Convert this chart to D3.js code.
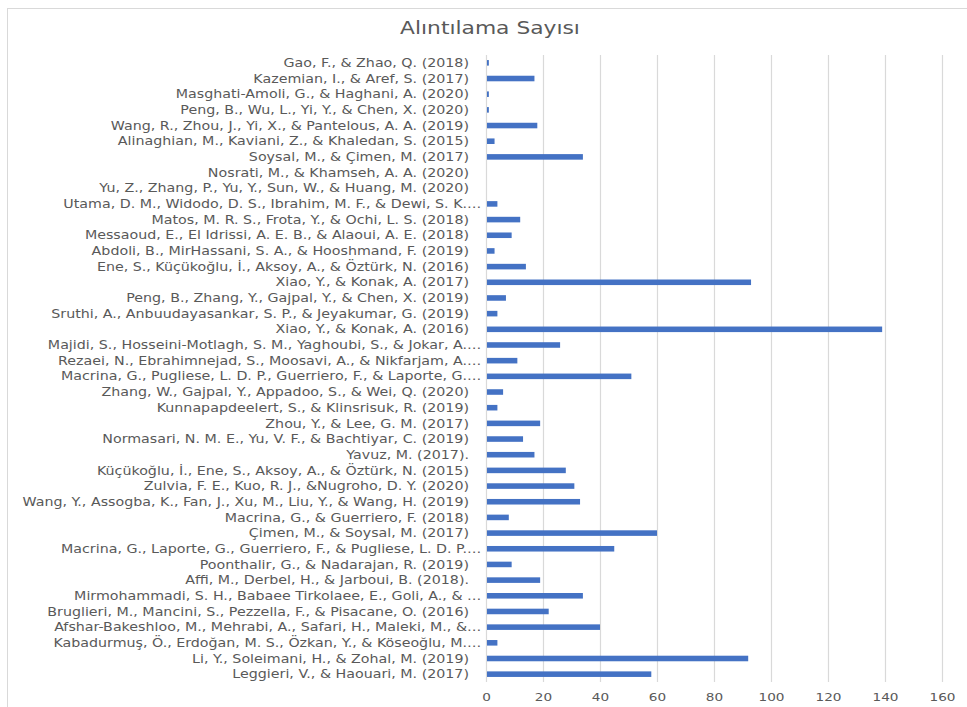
<!DOCTYPE html>
<html>
<head>
<meta charset="utf-8">
<script src="https://cdn.jsdelivr.net/npm/d3@7"></script>
<style>
  body { margin: 0; background: #fff; }
  svg { display: block; }
</style>
</head>
<body>
<svg id="chart" width="967" height="707"></svg>
<script>
// yayınlar (yukarıdan aşağıya)
const authors = [
  "Gao, F., & Zhao, Q. (2018)",
  "Kazemian, I., & Aref, S. (2017)",
  "Masghati-Amoli, G., & Haghani, A. (2020)",
  "Peng, B., Wu, L., Yi, Y., & Chen, X. (2020)",
  "Wang, R., Zhou, J., Yi, X., & Pantelous, A. A. (2019)",
  "Alinaghian, M., Kaviani, Z., & Khaledan, S. (2015)",
  "Soysal, M., & Çimen, M. (2017)",
  "Nosrati, M., & Khamseh, A. A. (2020)",
  "Yu, Z., Zhang, P., Yu, Y., Sun, W., & Huang, M. (2020)",
  "Utama, D. M., Widodo, D. S., Ibrahim, M. F., & Dewi, S. K.…",
  "Matos, M. R. S., Frota, Y., & Ochi, L. S. (2018)",
  "Messaoud, E., El Idrissi, A. E. B., & Alaoui, A. E. (2018)",
  "Abdoli, B., MirHassani, S. A., & Hooshmand, F. (2019)",
  "Ene, S., Küçükoğlu, İ., Aksoy, A., & Öztürk, N. (2016)",
  "Xiao, Y., & Konak, A. (2017)",
  "Peng, B., Zhang, Y., Gajpal, Y., & Chen, X. (2019)",
  "Sruthi, A., Anbuudayasankar, S. P., & Jeyakumar, G. (2019)",
  "Xiao, Y., & Konak, A. (2016)",
  "Majidi, S., Hosseini-Motlagh, S. M., Yaghoubi, S., & Jokar, A.…",
  "Rezaei, N., Ebrahimnejad, S., Moosavi, A., & Nikfarjam, A.…",
  "Macrina, G., Pugliese, L. D. P., Guerriero, F., & Laporte, G.…",
  "Zhang, W., Gajpal, Y., Appadoo, S., & Wei, Q. (2020)",
  "Kunnapapdeelert, S., & Klinsrisuk, R. (2019)",
  "Zhou, Y., & Lee, G. M. (2017)",
  "Normasari, N. M. E., Yu, V. F., & Bachtiyar, C. (2019)",
  "Yavuz, M. (2017).",
  "Küçükoğlu, İ., Ene, S., Aksoy, A., & Öztürk, N. (2015)",
  "Zulvia, F. E., Kuo, R. J., &Nugroho, D. Y. (2020)",
  "Wang, Y., Assogba, K., Fan, J., Xu, M., Liu, Y., & Wang, H. (2019)",
  "Macrina, G., & Guerriero, F. (2018)",
  "Çimen, M., & Soysal, M. (2017)",
  "Macrina, G., Laporte, G., Guerriero, F., & Pugliese, L. D. P.…",
  "Poonthalir, G., & Nadarajan, R. (2019)",
  "Affi, M., Derbel, H., & Jarboui, B. (2018).",
  "Mirmohammadi, S. H., Babaee Tirkolaee, E., Goli, A., & …",
  "Bruglieri, M., Mancini, S., Pezzella, F., & Pisacane, O. (2016)",
  "Afshar-Bakeshloo, M., Mehrabi, A., Safari, H., Maleki, M., &…",
  "Kabadurmuş, Ö., Erdoğan, M. S., Özkan, Y., & Köseoğlu, M.…",
  "Li, Y., Soleimani, H., & Zohal, M. (2019)",
  "Leggieri, V., & Haouari, M. (2017)"
];

// alıntılama sayıları
const citations = [
  1, 17, 1, 1, 18, 3, 34, 0, 0, 4,
  12, 9, 3, 14, 93, 7, 4, 139, 26, 11,
  51, 6, 4, 19, 13, 17, 28, 31, 33, 8,
  60, 45, 9, 19, 34, 22, 40, 4, 92, 58
];

const xTicks = [0, 20, 40, 60, 80, 100, 120, 140, 160];

const data = authors.map((a, i) => ({ name: a, value: citations[i] }));

const svg = d3.select("#chart");
const margin = { top: 55, left: 486 };
const plotW = 942 - margin.left;
const plotH = 682 - margin.top;
const font = "DejaVu Sans, sans-serif";
const grey = "#595959";

// referanstaki yazı yatayda geniş; ölçüp yatay ölçek bulunur
function stretch(node, targetW) {
  return targetW / node.getComputedTextLength();
}

// çerçeve
svg.append("rect")
  .attr("x", 7.5).attr("y", 8.5)
  .attr("width", 1000).attr("height", 800)
  .attr("fill", "#fff")
  .attr("stroke", "#d9d9d9")
  .attr("stroke-width", 1);

const title = svg.append("text")
  .attr("text-anchor", "middle")
  .attr("font-family", font)
  .attr("font-size", 17)
  .attr("fill", grey)
  .text("Alıntılama Sayısı");
title.attr("transform", `translate(490,34) scale(${stretch(title.node(), 180)},1)`);

const x = d3.scaleLinear().domain([0, 160]).range([0, plotW]);
const y = d3.scaleBand().domain(authors).range([0, plotH]).paddingInner(0.645).paddingOuter(0.3225);

const g = svg.append("g").attr("transform", `translate(${margin.left},${margin.top})`);

// dikey ızgara çizgileri
g.append("g")
  .selectAll("line")
  .data(xTicks)
  .join("line")
  .attr("x1", d => Math.round(x(d)) + 0.5)
  .attr("x2", d => Math.round(x(d)) + 0.5)
  .attr("y1", 0)
  .attr("y2", plotH)
  .attr("stroke", "#d9d9d9")
  .attr("stroke-width", 1.2);

g.append("g")
  .selectAll("rect")
  .data(data)
  .join("rect")
  .attr("x", x(0) + 1)
  .attr("y", d => y(d.name))
  .attr("width", d => Math.max(0, x(d.value) - x(0) - 1))
  .attr("height", y.bandwidth())
  .attr("fill", "#4472c4");

// x ekseni etiketleri
const xAxis = g.append("g")
  .attr("transform", `translate(0,${plotH})`)
  .call(d3.axisBottom(x).tickValues(xTicks).tickSize(0).tickPadding(0));
xAxis.select(".domain").remove();
const tickText = xAxis.selectAll("text")
  .attr("font-family", font)
  .attr("font-size", 11)
  .attr("fill", grey)
  .attr("y", 0).attr("dy", null);
const tx = stretch(tickText.filter(d => d === 160).node(), 26);
tickText.attr("transform", `translate(0,19) scale(${tx},1)`);

// y ekseni etiketleri
const labels = g.append("g")
  .selectAll("text")
  .data(data)
  .join("text")
  .attr("dy", "0.36em")
  .attr("text-anchor", "end")
  .attr("font-family", font)
  .attr("font-size", 11.5)
  .attr("fill", grey)
  .text(d => d.name);

// en uzun etikete göre yatay ölçek
const sx = stretch(labels.filter(d => d.name.startsWith("Wang, Y.")).node(), 447);

// kesilmiş etiketlerde üç nokta eksene taşar
const probe = g.append("text").attr("font-family", font).attr("font-size", 11.5).text("…");
const dotsW = probe.node().getComputedTextLength() * sx;
probe.remove();

labels.attr("transform", d => {
  const right = d.name.endsWith("…") ? -17 + dotsW - 2 : -17;
  return `translate(${right},${y(d.name) + y.bandwidth() / 2}) scale(${sx},1)`;
});
</script>
</body>
</html>
